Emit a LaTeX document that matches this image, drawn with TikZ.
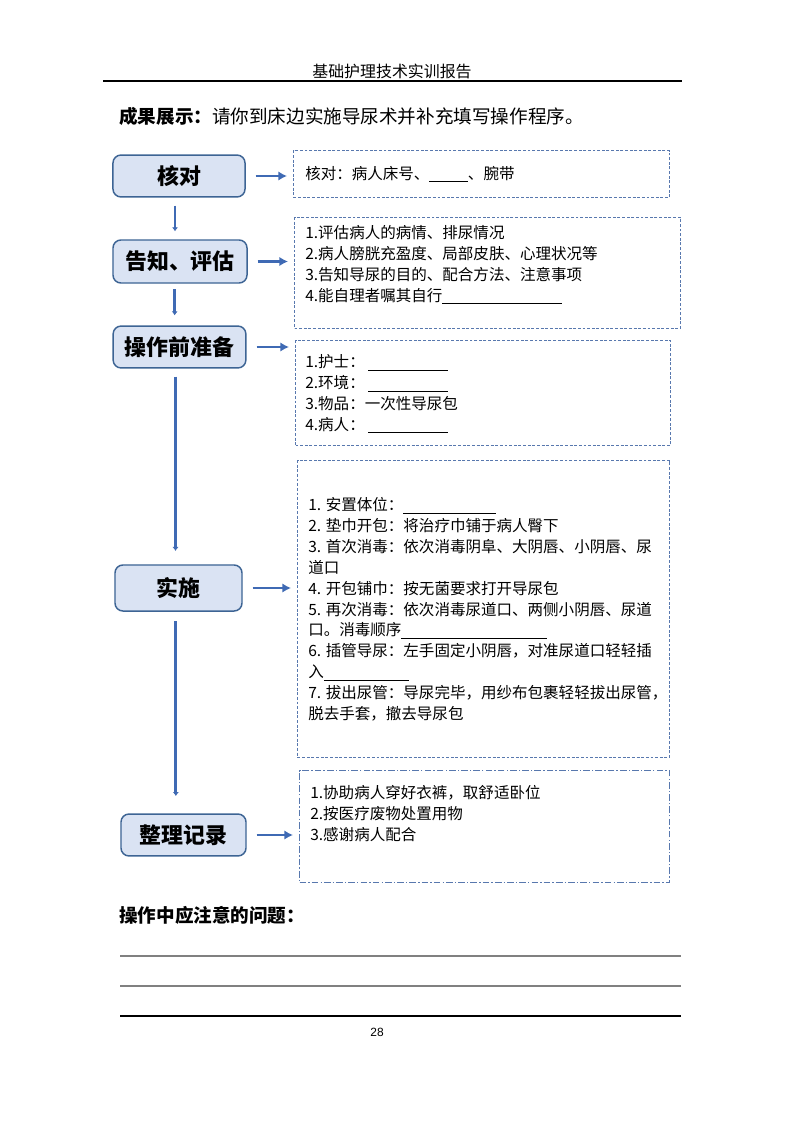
\documentclass[tikz,border=0pt]{standalone}
\usepackage{fontspec}
\setmainfont{Noto Sans CJK SC}
\newfontfamily\numfont{Liberation Sans}
\usetikzlibrary{arrows.meta,positioning}
\definecolor{boxfill}{HTML}{DAE3F3}
\definecolor{boxline}{HTML}{3D6494}
\definecolor{flowblue}{HTML}{3F6AB4}
\definecolor{noteline}{HTML}{5878AE}
\newcommand{\fillblank}[1]{\rule[-2pt]{#1}{0.5pt}}

\begin{document}
\begin{tikzpicture}[x=0.7535pt,y=-0.7535pt,>=Latex,every node/.style={inner sep=0pt},
  stepbox/.style={draw=boxline,fill=boxfill,line width=1.1pt,rounded corners=6pt,font=\bfseries\fontsize{16.5}{20}\selectfont},
  notebox/.style={draw=noteline,line width=0.8pt,dash pattern=on 2.2pt off 1.3pt,anchor=north west},
  notetext/.style={align=left,anchor=north west,font=\fontsize{11.7}{15.7}\selectfont},
  flowdown/.style={-{Latex[length=3pt,width=4.6pt]},line width=2.2pt,draw=flowblue},
  flowside/.style={-{Latex[length=6.5pt,width=7pt]},line width=2pt,draw=flowblue,shorten <=7.5pt,shorten >=4.5pt}]
\fill[white] (0,0) rectangle (793,1122);
% header
\node[font=\fontsize{12}{14}\selectfont] (head) at (392,71) {基础护理技术实训报告};
\draw[line width=0.8pt] (103,81) -- (682,81);
\node[anchor=west,font=\fontsize{14}{16}\selectfont] (task) at (119,116) {\textbf{成果展示：}请你到床边实施导尿术并补充填写操作程序。};
% steps
\node[stepbox,minimum width=99.5pt,minimum height=31.6pt] (k1) at (179,176) {核对};
\node[stepbox,minimum width=101pt,minimum height=32.4pt] (k2) at (180,261.5) {告知、评估};
\node[stepbox,minimum width=100pt,minimum height=31.6pt] (k3) at (179.5,347) {操作前准备};
\node[stepbox,minimum width=95.7pt,minimum height=34.7pt] (k4) at (178.5,588) {实施};
\node[stepbox,minimum width=94.2pt,minimum height=31.6pt] (k5) at (183.5,835) {整理记录};
\draw[flowdown,shorten <=6pt,shorten >=6pt] ([xshift=-3pt]k1.south) -- ([xshift=-3pt]k1.south |- k2.north);
\draw[flowdown,shorten <=4pt,shorten >=7.5pt] ([xshift=-4pt]k2.south) -- ([xshift=-4pt]k2.south |- k3.north);
\draw[flowdown,shorten <=6pt,shorten >=10pt] ([xshift=-3pt]k3.south) -- ([xshift=-3pt]k3.south |- k4.north);
\draw[flowdown,shorten <=7pt,shorten >=13pt] ([xshift=-2pt]k4.south) -- ([xshift=-2pt]k4.south |- k5.north);
% notes
\node[notebox,minimum width=283.3pt,minimum height=35.4pt] (n1) at (293,150) {};
\node[notebox,minimum width=290.9pt,minimum height=83.6pt] (n2) at (294,217) {};
\node[notebox,minimum width=282.6pt,minimum height=79.1pt] (n3) at (295,340) {};
\node[notebox,minimum width=280.3pt,minimum height=223.8pt] (n4) at (297,460) {};
\node[notebox,dash pattern=on 5pt off 1.6pt on 1pt off 1.6pt,minimum width=278.8pt,minimum height=84.4pt] (n5) at (299,770) {};
\draw[flowside] (k1.east) -- (k1.east -| n1.west);
\draw[flowside] (k2.east) -- (k2.east -| n2.west);
\draw[flowside] (k3.east) -- (k3.east -| n3.west);
\draw[flowside] (k4.east) -- (k4.east -| n4.west);
\draw[flowside] (k5.east) -- (k5.east -| n5.west);
\node[notetext,anchor=west] (t1) at (305,174) {核对：病人床号、\fillblank{29pt}、腕带};
\node[notetext] (t2) at (305,225.5) {1.评估病人的病情、排尿情况\\2.病人膀胱充盈度、局部皮肤、心理状况等\\3.告知导尿的目的、配合方法、注意事项\\4.能自理者嘱其自行\fillblank{90pt}};
\node[notetext] (t3) at (305,354.5) {1.护士：\ \fillblank{60pt}\\2.环境：\ \fillblank{60pt}\\3.物品：一次性导尿包\\4.病人：\ \fillblank{60pt}};
\node[notetext] (t4) at (308,497.5) {1. 安置体位：\fillblank{70pt}\\2. 垫巾开包：将治疗巾铺于病人臀下\\3. 首次消毒：依次消毒阴阜、大阴唇、小阴唇、尿\\道口\\4. 开包铺巾：按无菌要求打开导尿包\\5. 再次消毒：依次消毒尿道口、两侧小阴唇、尿道\\口。消毒顺序\fillblank{110pt}\\6. 插管导尿：左手固定小阴唇，对准尿道口轻轻插\\入\fillblank{64pt}\\7. 拔出尿管：导尿完毕，用纱布包裹轻轻拔出尿管，\\脱去手套，撤去导尿包};
\node[notetext] (t5) at (310,785.5) {1.协助病人穿好衣裤，取舒适卧位\\2.按医疗废物处置用物\\3.感谢病人配合};
% questions
\node[anchor=west,font=\bfseries\fontsize{14}{16}\selectfont] (ask) at (119,915) {操作中应注意的问题：};
\draw[gray,line width=0.8pt] (120,956) -- (681,956);
\draw[gray,line width=0.8pt] (120,986) -- (681,986);
\draw[line width=0.8pt] (120,1016) -- (681,1016);
\node[font=\numfont\fontsize{9}{10}\selectfont] (page) at (377,1032) {28};
\end{tikzpicture}
\end{document}
